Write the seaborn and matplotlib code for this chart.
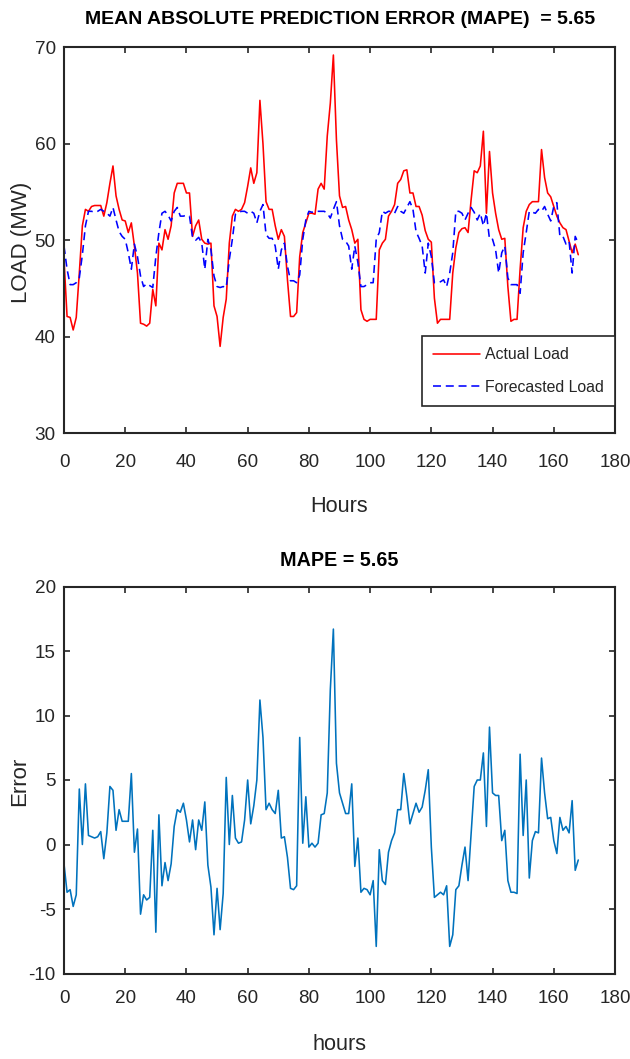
import numpy as np
import pandas as pd
import matplotlib
matplotlib.use("Agg")
import matplotlib.pyplot as plt
import seaborn as sns

# ---------------- data ----------------
hours = list(range(0, 169))

actual_load = [
    48.0, 42.1, 42.0, 40.7, 42.0, 46.6, 51.5, 53.2, 53.0, 53.5,
    53.6, 53.6, 53.6, 52.5, 53.9, 55.9, 57.7, 54.6, 53.2, 52.1,
    52.0, 50.8, 51.8, 49.4, 46.6, 41.4, 41.3, 41.1, 41.4, 44.9,
    43.2, 49.7, 49.0, 51.1, 50.1, 51.5, 54.9, 55.9, 55.9, 55.9,
    54.9, 54.9, 50.4, 51.5, 52.1, 50.1, 49.7, 49.6, 49.7, 43.2,
    42.1, 39.0, 42.0, 43.9, 49.7, 52.5, 53.2, 53.0, 53.2, 53.9,
    55.6, 57.5, 55.9, 57.0, 64.5, 60.0, 54.0, 53.2, 53.2, 51.5,
    50.1, 51.1, 50.4, 45.9, 42.1, 42.1, 42.5, 48.3, 50.8, 51.8,
    52.8, 52.8, 52.7, 55.3, 55.9, 55.3, 60.8, 64.2, 69.2, 60.4,
    54.6, 53.4, 53.5, 52.1, 51.1, 49.7, 50.1, 42.8, 41.8, 41.6,
    41.8, 41.8, 41.8, 49.0, 49.7, 50.1, 52.5, 53.0, 53.7, 55.9,
    56.3, 57.2, 57.3, 54.9, 54.9, 53.5, 53.5, 52.6, 51.0, 50.1,
    49.8, 44.0, 41.4, 41.8, 41.8, 41.8, 41.8, 46.6, 49.2, 50.8,
    51.2, 51.3, 50.8, 54.2, 57.2, 57.0, 57.7, 61.3, 52.8, 59.2,
    54.9, 52.8, 51.1, 50.1, 50.2, 45.2, 41.6, 41.8, 41.8, 47.0,
    51.3, 53.0, 53.7, 54.0, 54.0, 54.0, 59.4, 56.5, 54.9, 54.5,
    53.5, 52.5, 51.8, 51.3, 51.1, 49.9, 48.7, 49.6, 48.5,
]

forecast_load = [
    49.4, 47.0, 45.4, 45.4, 45.6, 46.1, 48.5, 51.5, 53.0, 53.0,
    52.9, 53.0, 53.2, 53.0, 52.8, 52.5, 53.4, 52.1, 50.9, 50.4,
    50.1, 48.7, 47.0, 49.6, 48.3, 46.3, 45.2, 45.5, 45.3, 45.1,
    48.3, 50.8, 52.8, 53.0, 52.6, 52.0, 53.0, 53.4, 52.5, 52.5,
    52.6, 52.5, 50.3, 50.0, 50.3, 49.7, 47.0, 50.1, 49.0, 46.3,
    45.2, 45.1, 45.2, 45.1, 48.0, 50.1, 52.7, 52.9, 53.0, 53.0,
    52.8, 53.0, 52.8, 51.8, 53.0, 53.7, 50.6, 50.2, 50.2, 49.4,
    47.0, 49.0, 49.7, 47.3, 45.8, 45.8, 45.6, 46.4, 50.1, 52.1,
    53.0, 52.9, 53.0, 53.0, 53.0, 53.0, 52.8, 52.3, 53.2, 54.0,
    51.5, 50.1, 49.9, 49.4, 47.0, 49.4, 47.7, 45.2, 45.2, 45.4,
    45.6, 45.6, 50.1, 50.8, 53.0, 52.8, 53.0, 53.0, 52.8, 53.5,
    53.0, 52.8, 53.4, 54.0, 53.2, 50.9, 50.2, 49.4, 46.6, 49.7,
    48.3, 45.6, 45.6, 45.7, 45.9, 45.2, 46.6, 48.7, 53.0, 53.0,
    52.8, 52.1, 52.8, 53.4, 52.9, 52.1, 52.8, 51.5, 52.8, 50.1,
    50.1, 49.0, 46.6, 48.7, 49.4, 46.1, 45.4, 45.4, 45.4, 44.5,
    48.7, 50.8, 53.0, 52.9, 52.8, 53.2, 53.0, 53.5, 52.7, 52.0,
    53.5, 53.9, 50.4, 50.4, 49.6, 49.9, 46.6, 50.4, 49.7,
]

prediction_error = [
    -1.5, -3.7, -3.5, -4.8, -3.9, 4.3, 0.0, 4.7, 0.7, 0.6,
    0.5, 0.6, 1.0, -1.1, 0.9, 4.5, 4.2, 1.1, 2.7, 1.8,
    1.8, 1.8, 5.5, -0.6, 1.2, -5.4, -3.9, -4.3, -4.1, 1.1,
    -6.8, 2.3, -3.2, -1.4, -2.8, -1.5, 1.4, 2.7, 2.5, 3.2,
    1.9, 0.2, 1.9, -0.4, 1.9, 1.1, 3.3, -1.6, -3.3, -7.0,
    -3.4, -6.6, -3.8, 5.2, 0.0, 3.8, 0.5, 0.1, 0.2, 1.9,
    5.0, 1.6, 3.0, 5.0, 11.2, 8.3, 2.7, 3.2, 2.7, 2.4,
    4.2, 0.5, 0.6, -1.0, -3.4, -3.5, -3.2, 8.3, 0.1, 3.7,
    -0.2, 0.1, -0.2, 0.1, 2.3, 2.4, 4.0, 12.0, 16.7, 6.3,
    4.0, 3.2, 2.4, 2.4, 4.7, -1.7, 0.5, -3.7, -3.4, -3.5,
    -3.9, -2.8, -7.9, -0.4, -2.8, -3.1, -0.6, 0.3, 0.9, 2.7,
    2.7, 5.5, 3.7, 1.6, 2.4, 3.2, 2.5, 2.9, 4.2, 5.8,
    -0.2, -4.1, -3.9, -3.7, -3.9, -3.2, -7.9, -7.0, -3.5, -3.2,
    -1.6, -0.2, -2.8, 0.9, 4.5, 5.0, 5.0, 7.1, 1.4, 9.1,
    4.0, 3.8, 3.8, 0.3, 1.1, -2.8, -3.7, -3.7, -3.8, 7.0,
    0.7, 5.0, -2.6, 0.3, 1.0, 0.9, 6.7, 4.0, 2.0, 2.1,
    0.3, -0.7, 2.1, 1.1, 1.4, 0.9, 3.4, -2.0, -1.2,
]

x_ticks = [0, 20, 40, 60, 80, 100, 120, 140, 160, 180]
load_ticks = [30, 40, 50, 60, 70]
error_ticks = [-10, -5, 0, 5, 10, 15, 20]

title_top = "MEAN ABSOLUTE PREDICTION ERROR (MAPE)  = 5.65"
title_bottom = "MAPE = 5.65"
series_labels = ["Actual Load", "Forecasted Load"]

# ---------------- style ----------------
sns.set_theme(style="white")
FAMILY = ["Liberation Sans", "DejaVu Sans"]
plt.rcParams["font.family"] = FAMILY
plt.rcParams["axes.unicode_minus"] = False

SPINE = "#262626"

df_load = pd.DataFrame({"hours": hours, "actual": actual_load, "forecast": forecast_load})
df_err = pd.DataFrame({"hours": hours, "error": prediction_error})

fig = plt.figure(figsize=(6.30, 10.59), dpi=100)
fig.patch.set_facecolor("white")
ax1 = fig.add_axes([64 / 630, 1 - 433.2 / 1059, 551 / 630, 385.9 / 1059])
ax2 = fig.add_axes([64 / 630, 1 - 973.5 / 1059, 551 / 630, 387 / 1059])

sns.lineplot(data=df_load, x="hours", y="actual", ax=ax1, color="#FF0000",
             linewidth=1.15, estimator=None, label=series_labels[0])
sns.lineplot(data=df_load, x="hours", y="forecast", ax=ax1, color="#0000FF",
             linewidth=1.15, estimator=None, linestyle=(0, (5, 3)), label=series_labels[1])
sns.lineplot(data=df_err, x="hours", y="error", ax=ax2, color="#0072BD",
             linewidth=1.15, estimator=None)


def style_axes(ax, yticks, ylim, xpad):
    ax.set_xlim(0, 180)
    ax.set_ylim(*ylim)
    ax.set_xticks(x_ticks)
    ax.set_yticks(yticks)
    ax.set_xlabel("")
    ax.set_ylabel("")
    ax.set_facecolor("white")
    for s in ax.spines.values():
        s.set_visible(True)
        s.set_color(SPINE)
        s.set_linewidth(1.5)
    ax.tick_params(axis="both", which="major", direction="in", length=4.5, width=1.2,
                   color=SPINE, top=True, right=True, bottom=True, left=True,
                   labelcolor="#262626", labelsize=13.6)
    ax.tick_params(axis="x", pad=xpad)
    ax.tick_params(axis="y", pad=6)
    ax.grid(False)


style_axes(ax1, load_ticks, (30, 70), 15)
style_axes(ax2, error_ticks, (-10, 20), 12)

leg = ax1.legend(loc="lower right", bbox_to_anchor=(1.0, 0.0705), frameon=True,
                 fancybox=False, edgecolor="#262626", framealpha=1.0,
                 handlelength=3.0, borderpad=0.7, labelspacing=1.1,
                 handletextpad=0.3, borderaxespad=0.0,
                 prop=dict(size=11.4, family=FAMILY))
leg.get_frame().set_linewidth(1.2)

# titles and labels
fig.text(340 / 630, 1 - 20 / 1059, title_top, ha="center", va="center",
         fontsize=14.0, fontweight="bold", color="black", family=FAMILY)
fig.text(339.5 / 630, 1 - 561 / 1059, title_bottom, ha="center", va="center",
         fontsize=14.2, fontweight="bold", color="black", family=FAMILY)
fig.text(339.5 / 630, 1 - 507 / 1059, "Hours", ha="center", va="center",
         fontsize=15.6, color="#262626", family=FAMILY)
fig.text(339.5 / 630, 1 - 1045 / 1059, "hours", ha="center", va="center",
         fontsize=15.6, color="#262626", family=FAMILY)
fig.text(22 / 630, 1 - 242 / 1059, "LOAD (MW)", rotation=90, ha="center", va="center",
         fontsize=16, color="#262626", family=FAMILY)
fig.text(20 / 630, 1 - 781 / 1059, "Error", rotation=90, ha="center", va="center",
         fontsize=16, color="#262626", family=FAMILY)

fig.savefig("out.png", dpi=100, facecolor="white")
